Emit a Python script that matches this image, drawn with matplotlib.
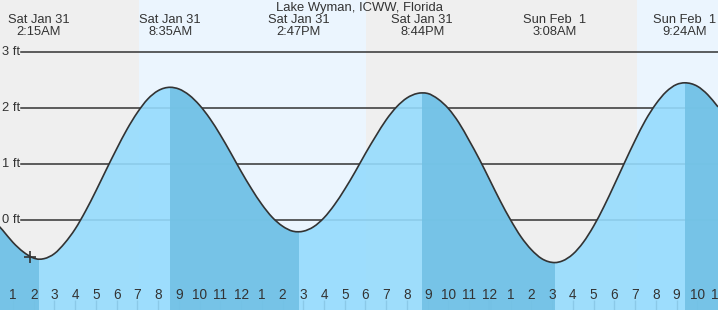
import numpy as np
import matplotlib
matplotlib.use('Agg')
import matplotlib.pyplot as plt
from matplotlib.path import Path
from matplotlib.patches import PathPatch

plt.rcParams['font.family'] = ['Liberation Sans', 'DejaVu Sans']

# tide height (ft) every half hour, hours since Jan 31 00:00
times = np.arange(0, 35.5, 0.5)
heights = [0.02, -0.18, -0.40, -0.57, -0.68, -0.69, -0.60, -0.41, -0.16, 0.16,
           0.52, 0.90, 1.27, 1.62, 1.92, 2.16, 2.31, 2.37, 2.34, 2.23,
           2.05, 1.81, 1.52, 1.20, 0.87, 0.56, 0.28, 0.05, -0.11, -0.20,
           -0.20, -0.12, 0.04, 0.27, 0.55, 0.86, 1.19, 1.50, 1.79, 2.02,
           2.18, 2.26, 2.26, 2.16, 1.99, 1.74, 1.42, 1.08, 0.71, 0.34,
           0.00, -0.30, -0.53, -0.69, -0.76, -0.73, -0.61, -0.40, -0.11, 0.24,
           0.63, 1.03, 1.42, 1.78, 2.07, 2.29, 2.42, 2.45, 2.39, 2.24,
           2.02]

# high / low tide events
event_times = [2.25, 8.583, 14.783, 20.733, 27.133, 33.4]
event_heights = [-0.70, 2.37, -0.21, 2.27, -0.76, 2.45]
event_days = ['Sat Jan 31', 'Sat Jan 31', 'Sat Jan 31', 'Sat Jan 31', 'Sun Feb  1', 'Sun Feb  1']
event_clock = ['2:15AM', '8:35AM', '2:47PM', '8:44PM', '3:08AM', '9:24AM']

sunrise = [7.06, 31.1]
sunset = [18.02]
grid_ft = [0, 1, 2, 3]
hours = list(range(1, 36))
now_t, now_h = 1.82, -0.66

title = 'Lake Wyman, ICWW, Florida'

x0, x1 = 0.375, 34.894
y0, y1 = -1.607, 3.929
txt = '#333333'


def smooth_path(t, h, close_to=None):
    # cubic bezier through the points (hermite tangents), flat at the events
    m = np.gradient(h, t)
    for et in event_times:
        m[np.isclose(t, et)] = 0.0
    verts = [(t[0], h[0])]
    codes = [Path.MOVETO]
    for i in range(len(t) - 1):
        dt = t[i + 1] - t[i]
        verts += [(t[i] + dt / 3, h[i] + m[i] * dt / 3),
                  (t[i + 1] - dt / 3, h[i + 1] - m[i + 1] * dt / 3),
                  (t[i + 1], h[i + 1])]
        codes += [Path.CURVE4] * 3
    if close_to is not None:
        verts += [(t[-1], close_to), (t[0], close_to), (t[0], h[0])]
        codes += [Path.LINETO, Path.LINETO, Path.CLOSEPOLY]
    return Path(verts, codes)


fig = plt.figure(figsize=(7.18, 3.10), dpi=100)
ax = fig.add_axes([0, 0, 1, 1])
ax.set_xlim(x0, x1)
ax.set_ylim(y0, y1)
for s in ax.spines.values():
    s.set_visible(False)
ax.set_yticks([])

# night / day background
night = '#efefef'
day = '#ebf5fe'
ax.axvspan(x0 - 1, sunrise[0], color=night, zorder=0, lw=0)
ax.axvspan(sunrise[0], sunset[0], color=day, zorder=0, lw=0)
ax.axvspan(sunset[0], sunrise[1], color=night, zorder=0, lw=0)
ax.axvspan(sunrise[1], x1 + 1, color=day, zorder=0, lw=0)

# grid lines with labels
for g in grid_ft:
    ax.axhline(g, xmin=21 / 718, xmax=1, color=txt, lw=1.1, zorder=1)
    ax.text(2 / 718, g, '%d ft' % g, transform=ax.get_yaxis_transform(),
            ha='left', va='center', fontsize=9.3, color=txt, zorder=5)

# curve
t = np.concatenate([times, event_times])
h = np.concatenate([heights, event_heights])
order = np.argsort(t)
t, h = t[order], h[order]
# drop grid points that sit too close to an event time
keep = np.ones(len(t), bool)
for et in event_times:
    near = (np.abs(t - et) < 0.15) & ~np.isclose(t, et)
    keep &= ~near
t, h = t[keep], h[keep]

light = '#95dbfd'
dark = '#72c1e5'
fill = PathPatch(smooth_path(t, h, close_to=y0 - 1), facecolor=light,
                 edgecolor='none', alpha=0.9, zorder=2)
ax.add_patch(fill)

# falling tide in darker blue
falls = [(x0 - 1, event_times[0])]
for i in range(1, len(event_times), 2):
    end = event_times[i + 1] if i + 1 < len(event_times) else x1 + 1
    falls.append((event_times[i], end))
for a, b in falls:
    sp = ax.axvspan(a, b, color=dark, alpha=0.9, lw=0, zorder=2.1)
    sp.set_clip_path(fill)

ax.add_patch(PathPatch(smooth_path(t, h), facecolor='none', edgecolor=txt,
                       lw=1.2, zorder=3))
ax.plot([now_t], [now_h], marker='+', ms=8, mew=1.2, color=txt, zorder=4)

# hour ticks
ax.set_xticks(hours)
ax.tick_params(axis='x', direction='in', length=7.2, width=1, color=txt,
               labelbottom=False)
for tk, hr in zip(ax.xaxis.get_major_ticks(), hours):
    if hr == 24:
        tk.tick1line.set_markeredgewidth(3)
for hr in hours:
    lab = str((hr - 1) % 12 + 1)
    ax.text(hr, 15 / 310, lab, transform=ax.get_xaxis_transform(),
            ha='center', va='center', fontsize=9.8, color=txt, zorder=5)

# title and event labels
ax.text(0.5, 1 - 7.5 / 310, title, transform=ax.transAxes, ha='center',
        va='center', fontsize=9.4, color=txt)
for et, d, c in zip(event_times, event_days, event_clock):
    ax.text(et, 1 - 20 / 310, d, transform=ax.get_xaxis_transform(),
            ha='center', va='center', fontsize=9.3, color=txt)
    ax.text(et, 1 - 32 / 310, c, transform=ax.get_xaxis_transform(),
            ha='center', va='center', fontsize=9.3, color=txt)

fig.savefig('out.png', dpi=100)
